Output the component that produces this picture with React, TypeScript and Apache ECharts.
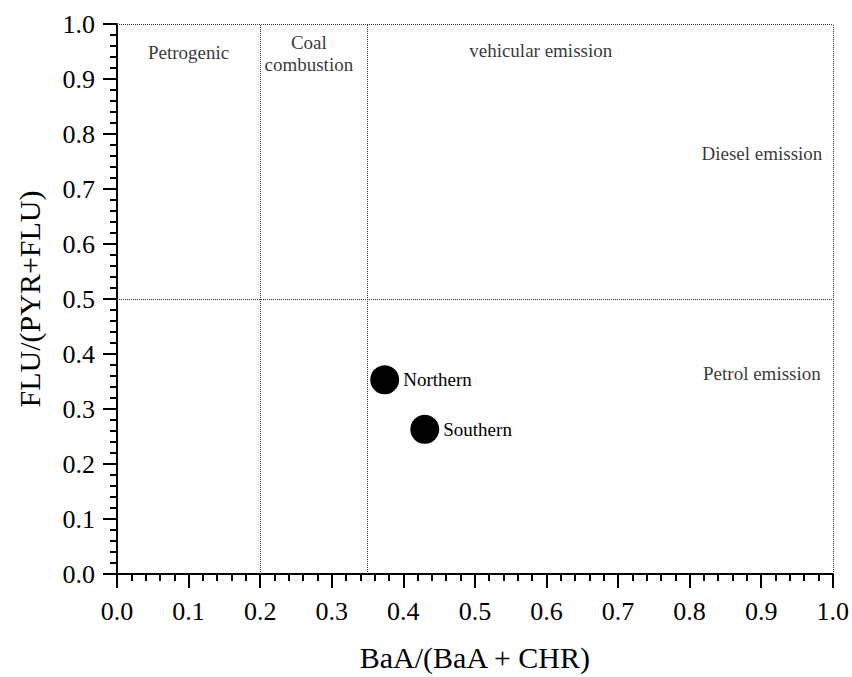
import React, { useEffect, useRef } from "react";
import * as echarts from "echarts";

const xTitle = "BaA/(BaA + CHR)";
const yTitle = "FLU/(PYR+FLU)";
const siteNames = ["Northern", "Southern"];
const baaRatio = [0.374, 0.43];
const fluRatio = [0.353, 0.263];
const xDividers = [0.2, 0.35, 1.0];
const yDividers = [0.5, 1.0];
const regionLabels = [
  "Petrogenic",
  "Coal\ncombustion",
  "vehicular emission",
  "Diesel emission",
  "Petrol emission",
];
const regionX = [0.1, 0.268, 0.592, 0.901, 0.901];
const regionY = [0.949, 0.946, 0.951, 0.765, 0.364];

const FONT = "Liberation Serif";

export default function App() {
  const ref = useRef<HTMLDivElement>(null);
  useEffect(() => {
    document.body.style.margin = "0";
    if (!ref.current) return;
    const chart = echarts.init(ref.current, undefined, { renderer: "svg" });
    const axisCommon = {
      type: "value" as const,
      min: 0,
      max: 1,
      interval: 0.1,
      nameLocation: "middle" as const,
      nameTextStyle: { fontSize: 30, fontFamily: FONT, color: "#000" },
      axisLine: { show: true, onZero: false, lineStyle: { color: "#000", width: 2 } },
      axisTick: { show: true, inside: false, length: 14, lineStyle: { color: "#000", width: 2 } },
      minorTick: { show: true, splitNumber: 5, length: 7, lineStyle: { color: "#000", width: 2 } },
      splitLine: { show: false },
      minorSplitLine: { show: false },
    };
    chart.setOption({
      animation: false,
      backgroundColor: "#fff",
      textStyle: { fontFamily: FONT, color: "#000" },
      grid: { left: 117, right: 19, top: 24, bottom: 101 },
      xAxis: {
        ...axisCommon,
        name: xTitle,
        nameGap: 68,
        axisLabel: {
          fontSize: 26,
          fontFamily: FONT,
          color: "#000",
          margin: 24,
          showMaxLabel: true,
          showMinLabel: true,
          formatter: (v: number) => v.toFixed(1),
        },
      },
      yAxis: {
        ...axisCommon,
        name: yTitle,
        nameGap: 73,
        axisLabel: {
          fontSize: 26,
          fontFamily: FONT,
          color: "#000",
          margin: 22,
          showMaxLabel: true,
          showMinLabel: true,
          formatter: (v: number) => v.toFixed(1),
        },
      },
      series: [
        {
          type: "scatter",
          name: "sites",
          symbol: "circle",
          symbolSize: 29,
          itemStyle: { color: "#000", opacity: 1 },
          label: {
            show: true,
            position: "right",
            distance: 4,
            formatter: "{b}",
            fontSize: 19,
            fontFamily: FONT,
            color: "#000",
          },
          data: siteNames.map((n, i) => ({ name: n, value: [baaRatio[i], fluRatio[i]] })),
          markLine: {
            silent: true,
            symbol: "none",
            label: { show: false },
            lineStyle: { type: "dotted", color: "#333", width: 1 },
            data: [
              ...xDividers.map((v) => ({ xAxis: v })),
              ...yDividers.map((v) => ({ yAxis: v })),
            ],
          },
          z: 3,
        },
        {
          type: "scatter",
          name: "regions",
          symbol: "circle",
          symbolSize: 1,
          itemStyle: { color: "rgba(0,0,0,0)" },
          label: {
            show: true,
            position: "inside",
            formatter: "{b}",
            fontSize: 19,
            lineHeight: 22,
            fontFamily: FONT,
            color: "#000",
          },
          data: regionLabels.map((n, i) => ({ name: n, value: [regionX[i], regionY[i]] })),
          z: 2,
        },
      ],
    });
    return () => chart.dispose();
  }, []);
  return <div ref={ref} style={{ width: 852, height: 677 }} />;
}
